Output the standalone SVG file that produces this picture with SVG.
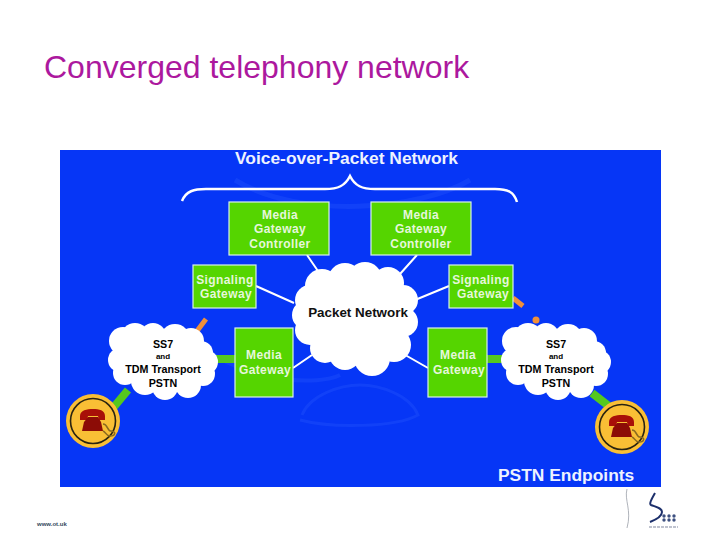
<svg xmlns="http://www.w3.org/2000/svg" width="720" height="540" viewBox="0 0 720 540">
<style>
text{font-family:"Liberation Sans",Arial,sans-serif}
.title{font-size:32px;fill:#ac189e}
.box{fill:#55d500;stroke:#d8f0e8;stroke-width:1.2}
.bl{font-size:12px;font-weight:bold;fill:#e6f7dc;text-anchor:middle;letter-spacing:.4px}
.cl{fill:#000;text-anchor:middle;font-weight:bold;font-size:10.7px}
.head{font-size:17.4px;font-weight:bold;fill:#eef2ff}
.wl{stroke:#fff;stroke-width:2;fill:none}
.gl{stroke:#55c81e;stroke-width:8;fill:none}
.ol{stroke:#f0903a;stroke-width:5;fill:none}
.swirl{fill:none;stroke:#3a68ff;stroke-opacity:.22}
</style>
<defs>
<g id="phone">
<circle r="27" fill="#f9bf35"/>
<circle r="22.5" fill="none" stroke="#2a2410" stroke-width="1.6"/>
<path d="M-13-5C-13-11-6-12 0-12C6-12 12-11 12-5L12-1 6-1 5-5-5-5-6-1-13-1Z" fill="#a81008"/>
<path d="M-9 1L-5-4 5-4 8 1 10 10-11 10Z" fill="#8c0c06"/>
<path d="M10 3C15 3 14 10 18 10C23 10 23 15 17 15C13 15 13 11 10 10" fill="none" stroke="#8a6a20" stroke-width="1.6"/>
</g>
<g id="smallcloud" fill="#fff">
<circle cx="-40" cy="-20" r="14"/><circle cx="-28" cy="-24" r="14"/><circle cx="-10" cy="-25" r="13"/><circle cx="12" cy="-22" r="15"/><circle cx="28" cy="-20" r="13"/>
<circle cx="38" cy="-8" r="12"/><circle cx="43" cy="1" r="12"/><circle cx="40" cy="13" r="12"/><circle cx="25" cy="24" r="13"/><circle cx="2" cy="26" r="13"/><circle cx="-18" cy="20" r="14"/><circle cx="-38" cy="12" r="12"/><circle cx="-43" cy="-1" r="12"/><ellipse cx="0" cy="0" rx="42" ry="28"/>
</g>
</defs>
<rect width="720" height="540" fill="#fff"/>
<text class="title" x="44" y="78">Converged telephony network</text>
<rect x="60" y="150" width="601" height="337" fill="#0636f6"/>
<g class="swirl">
<path d="M302 415C310 395 340 385 360 385M300 420C330 428 395 428 418 415C410 395 380 385 360 385" stroke-width="3"/>
<path d="M235 180C300 220 420 210 470 180" stroke-width="5"/>
<path d="M200 345C250 385 320 385 340 375" stroke-width="4"/>
</g>
<text class="head" x="235" y="164">Voice-over-Packet Network</text>
<path d="M182 201C186 191 194 189 206 189L325 189C338 189 345 186 350 176C355 186 362 189 375 189L495 189C508 189 514 192 517 202" fill="none" stroke="#fff" stroke-width="2.5"/>
<g id="connectors">
<path class="wl" d="M307 255L320 274M417 255L400 274M256 286L294 303M449 286L415 300M293 368L312 355M428 368L400 352"/>
<path class="gl" d="M215 359L236 359M486 359L505 359M128 390L113 408M592 393L610 407"/>
<path class="ol" d="M206 319L197 331M513 298L523 306"/>
<circle cx="536" cy="320" r="3.5" fill="#f0903a"/>
</g>
<g id="packet-network" fill="#fff">
<circle cx="322" cy="286" r="17"/><circle cx="345" cy="280" r="17"/><circle cx="365" cy="279" r="17"/><circle cx="388" cy="283" r="16"/><circle cx="403" cy="300" r="15"/><circle cx="403" cy="322" r="15"/><circle cx="394" cy="345" r="17"/><circle cx="372" cy="358" r="18"/><circle cx="345" cy="354" r="16"/><circle cx="325" cy="348" r="15"/><circle cx="310" cy="330" r="15"/><circle cx="307" cy="315" r="15"/><circle cx="310" cy="300" r="15"/><ellipse cx="355" cy="318" rx="48" ry="44"/>
<text x="358" y="317" text-anchor="middle" font-size="13.4" font-weight="bold" fill="#111">Packet Network</text>
</g>
<g id="mgc-left"><rect class="box" x="229" y="202" width="100" height="53"/><text class="bl" x="280" y="219">Media</text><text class="bl" x="280" y="233">Gateway</text><text class="bl" x="280" y="248">Controller</text></g>
<g id="mgc-right"><rect class="box" x="371" y="202" width="100" height="53"/><text class="bl" x="421" y="219">Media</text><text class="bl" x="421" y="233">Gateway</text><text class="bl" x="421" y="248">Controller</text></g>
<g id="sg-left"><rect class="box" x="193" y="265" width="63" height="43"/><text class="bl" x="225" y="284">Signaling</text><text class="bl" x="226" y="298">Gateway</text></g>
<g id="sg-right"><rect class="box" x="449" y="265" width="64" height="43"/><text class="bl" x="481" y="284">Signaling</text><text class="bl" x="483" y="298">Gateway</text></g>
<g id="mg-left"><rect class="box" x="235" y="328" width="58" height="69"/><text class="bl" x="264" y="359">Media</text><text class="bl" x="265" y="374">Gateway</text></g>
<g id="mg-right"><rect class="box" x="428" y="328" width="59" height="69"/><text class="bl" x="458" y="359">Media</text><text class="bl" x="459" y="374">Gateway</text></g>
<g id="pstn-left"><use href="#smallcloud" x="163" y="361"/><text class="cl" x="163" y="348">SS7</text><text class="cl" x="163" y="359" style="font-size:8px">and</text><text class="cl" x="163" y="373">TDM Transport</text><text class="cl" x="163" y="387">PSTN</text></g>
<g id="pstn-right"><use href="#smallcloud" x="556" y="361"/><text class="cl" x="556" y="348">SS7</text><text class="cl" x="556" y="359" style="font-size:8px">and</text><text class="cl" x="556" y="373">TDM Transport</text><text class="cl" x="556" y="387">PSTN</text></g>
<g id="phone-left"><use href="#phone" x="93" y="421"/></g>
<g id="phone-right"><use href="#phone" x="622" y="427"/></g>
<text class="head" x="498" y="481">PSTN Endpoints</text>
<text x="37" y="526" font-size="6" font-weight="bold" fill="#34495e">www.ot.uk</text>
<g id="logo">
<path d="M627 489C624 500 632 510 627 528" fill="none" stroke="#9aa0a8" stroke-width=".8"/>
<path d="M655 493C651 500 649 504 651 505C656 507 662 508 662 512C662 517 655 520 650 522" fill="none" stroke="#1c2f6b" stroke-width="2"/>
<g fill="#3d5080"><circle cx="664" cy="516" r="1.7"/><circle cx="669" cy="516" r="1.7"/><circle cx="674" cy="516" r="1.7"/><circle cx="664" cy="520" r="1.7"/><circle cx="669" cy="520" r="1.7"/><circle cx="674" cy="520" r="1.7"/></g>
<path d="M649 527H678" stroke="#aab0c0" stroke-width="1.5" stroke-dasharray="3 1"/>
</g>
</svg>
